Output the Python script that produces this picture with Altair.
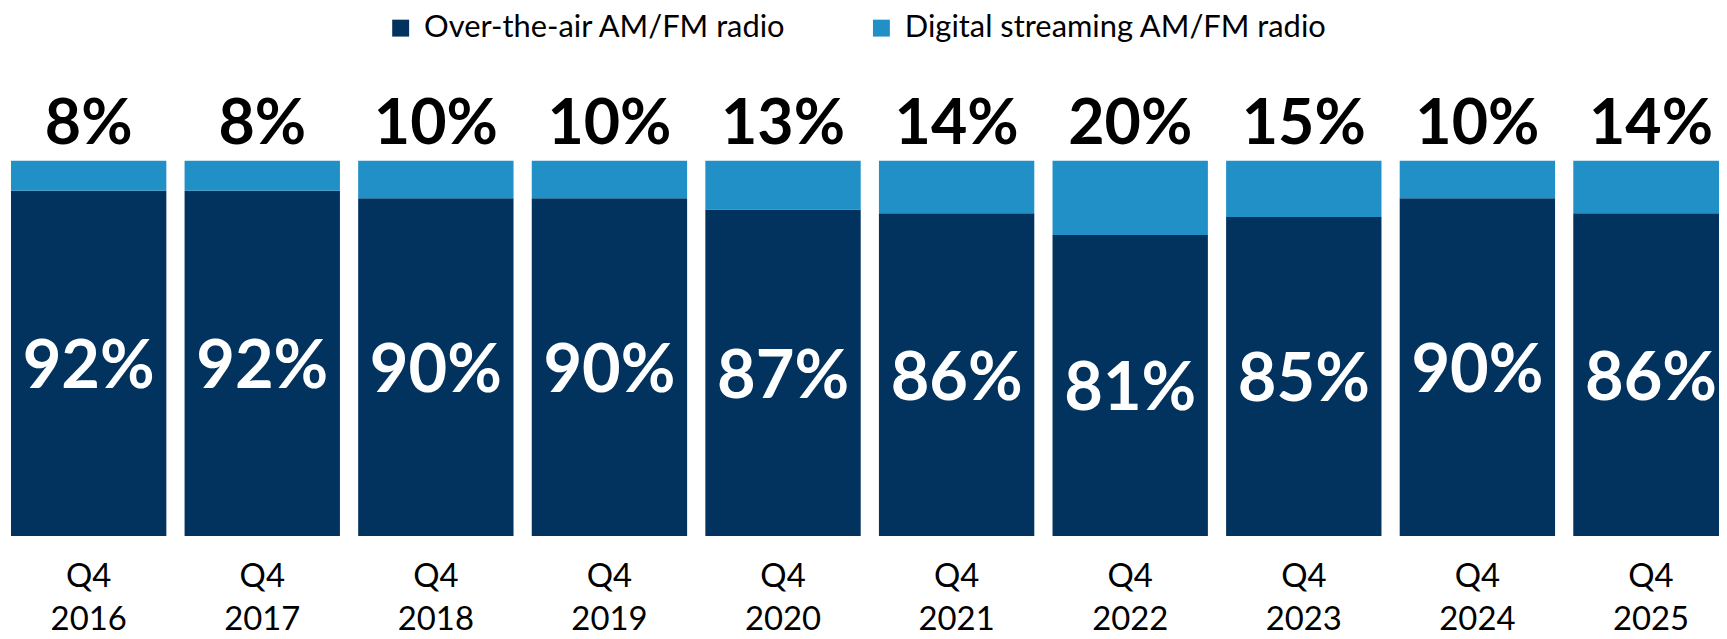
import altair as alt
import pandas as pd

quarters = ["Q4 2016", "Q4 2017", "Q4 2018", "Q4 2019", "Q4 2020",
            "Q4 2021", "Q4 2022", "Q4 2023", "Q4 2024", "Q4 2025"]
over_the_air = [92, 92, 90, 90, 87, 86, 81, 85, 90, 86]
digital = [8, 8, 10, 10, 13, 14, 20, 15, 10, 14]
series_names = ["Over-the-air AM/FM radio", "Digital streaming AM/FM radio"]
series_colors = ["#02335f", "#2190c7"]

wide = pd.DataFrame({"quarter": quarters, "over": over_the_air, "digital": digital})
long = pd.DataFrame({
    "quarter": quarters * 2,
    "series": [series_names[0]] * len(quarters) + [series_names[1]] * len(quarters),
    "value": over_the_air + digital,
    "ord": [0] * len(quarters) + [1] * len(quarters),
})

FONT = "Lato"
xscale = alt.Scale(range=[0, 1731.7], paddingInner=0.105, paddingOuter=0.0172)
yscale = alt.Scale(domain=[0, 1.403], nice=False, zero=True)

x_axis = alt.X(
    "quarter:N", sort=quarters, title=None, scale=xscale,
    axis=alt.Axis(domain=False, ticks=False, labelAngle=0,
                  labelExpr="split(datum.label, ' ')",
                  labelFont=FONT, labelFontSize=33, labelColor="#000000",
                  labelLineHeight=43, labelPadding=25, labelBaseline="top",
                  labelLimit=300, labelOverlap=False, labelBound=False),
)

bars = alt.Chart(long).mark_bar().encode(
    x=x_axis,
    y=alt.Y("value:Q", stack="normalize", scale=yscale, axis=None),
    color=alt.Color(
        "series:N", sort=series_names,
        scale=alt.Scale(domain=series_names, range=series_colors),
        legend=alt.Legend(
            orient="none", legendX=379, legendY=3, direction="horizontal",
            title=None, symbolType="square", symbolSize=289, symbolStrokeWidth=0,
            labelFont=FONT, labelFontSize=31, labelColor="#000000",
            labelOffset=8, columnPadding=79, padding=0, labelLimit=800,
        ),
    ),
    order=alt.Order("ord:Q", sort="ascending"),
)

base = alt.Chart(wide).transform_calculate(
    over_mid="datum.over / (datum.over + datum.digital) / 2",
    top_pos="1",
    over_lbl="datum.over + '%'",
    dig_lbl="datum.digital + '%'",
)

inner = base.mark_text(
    font=FONT, fontSize=67, fontWeight="bold", color="#ffffff",
    baseline="middle", dy=5,
).encode(
    x=x_axis,
    y=alt.Y("over_mid:Q", scale=yscale, axis=None),
    text="over_lbl:N",
)

top = base.mark_text(
    font=FONT, fontSize=63, fontWeight="bold", color="#000000",
    baseline="alphabetic", dy=-17,
).encode(
    x=x_axis,
    y=alt.Y("top_pos:Q", scale=yscale, axis=None),
    text="dig_lbl:N",
)

chart = alt.layer(bars, inner, top).properties(
    width=1719, height=529,
    padding={"left": 0, "top": 0, "right": 0, "bottom": 102},
    autosize=alt.AutoSizeParams(type="none"),
).configure_view(stroke=None)

chart.save("out.html", embed_options={"renderer": "svg", "actions": False})
